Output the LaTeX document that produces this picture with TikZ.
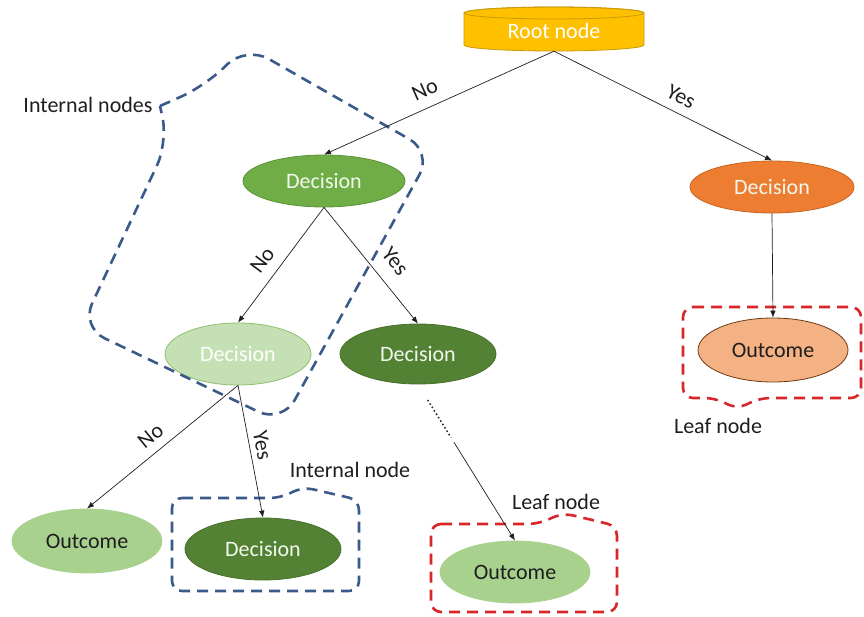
\documentclass[tikz,border=0pt]{standalone}
\usepackage{fontspec}
\setmainfont{Carlito}
\usetikzlibrary{shapes.geometric,arrows.meta,calc}

\definecolor{rootfill}{HTML}{FFC000}
\definecolor{rootline}{HTML}{C99A06}
\definecolor{midgreen}{HTML}{70AD47}
\definecolor{midgreenline}{HTML}{5A9438}
\definecolor{palegreen}{HTML}{C5E0B4}
\definecolor{palegreenline}{HTML}{8FBF6F}
\definecolor{darkgreen}{HTML}{548235}
\definecolor{darkgreenline}{HTML}{46702B}
\definecolor{leafgreen}{HTML}{A9D18E}
\definecolor{orangefill}{HTML}{ED7D31}
\definecolor{orangeline}{HTML}{C8651F}
\definecolor{peach}{HTML}{F4B183}
\definecolor{peachline}{HTML}{6E3A14}
\definecolor{callblue}{HTML}{3A5A8A}
\definecolor{callred}{HTML}{D9262B}
\definecolor{inkgray}{HTML}{1E1E1E}
\definecolor{paletext}{HTML}{F2F8EE}

\begin{document}
\begin{tikzpicture}[x=1pt,y=-1pt,
  txt/.style={font=\fontsize{22}{26}\selectfont},
  ell/.style={ellipse, inner sep=0pt, line width=0.8pt, txt},
  conn/.style={-{Latex[length=7pt,width=5.5pt]}, line width=0.7pt, draw=inkgray},
  lbl/.style={sloped, inner sep=2pt, txt, text=inkgray},
  bluecall/.style={draw=callblue, line width=2.6pt, dash pattern=on 11pt off 7pt, rounded corners=10pt},
  redcall/.style={draw=callred, line width=2.6pt, dash pattern=on 11pt off 7pt, rounded corners=10pt},
  note/.style={txt, text=inkgray, inner sep=0pt}
]
\useasboundingbox (0,0) rectangle (864,616);

% root cylinder
\filldraw[fill=rootfill, draw=rootline, line width=0.8pt]
  (464,13) -- (464,45) arc[start angle=180, end angle=360, x radius=90pt, y radius=6pt]
  -- (644,13) arc[start angle=0, end angle=180, x radius=90pt, y radius=6pt] -- cycle;
\draw[rootline, line width=0.8pt] (554,13) ellipse[x radius=90pt, y radius=6pt];
\node[txt, text=white, minimum width=180pt, minimum height=40pt, inner sep=0pt] (root) at (554,31) {Root node};

% decision and outcome nodes
\node[ell, fill=midgreen, draw=midgreenline, text=paletext, minimum width=162pt, minimum height=52pt] (d1) at (324,181) {Decision};
\node[ell, fill=orangefill, draw=orangeline, text=paletext, minimum width=164pt, minimum height=52pt] (od) at (772,187) {Decision};
\node[ell, fill=peach, draw=peachline, text=inkgray, minimum width=150pt, minimum height=64pt] (oo) at (773,350) {Outcome};
\node[ell, fill=palegreen, draw=palegreenline, text=white, minimum width=146pt, minimum height=62pt] (dl) at (238,354) {Decision};
\node[ell, fill=darkgreen, draw=darkgreenline, text=paletext, minimum width=156pt, minimum height=60pt] (dd) at (418,354) {Decision};
\node[ell, fill=leafgreen, draw=leafgreen, text=inkgray, minimum width=150pt, minimum height=64pt] (ob) at (87,541) {Outcome};
\node[ell, fill=darkgreen, draw=darkgreenline, text=paletext, minimum width=156pt, minimum height=62pt] (dd2) at (263,549) {Decision};
\node[ell, fill=leafgreen, draw=leafgreen, text=inkgray, minimum width=150pt, minimum height=62pt] (om) at (515,572) {Outcome};

% dashed callouts
\draw[bluecall, rounded corners=26pt]
  (160,106) -- (205,86) -- (246,46) -- (432,152) -- (282,423) -- (81,327) -- (168,142) -- (160,106);
\draw[bluecall] (172,498) -- (280,498) -- (303,487) -- (359,500) -- (359,591) -- (172,591) -- cycle;
\draw[redcall] (431,524) -- (538,524) -- (563,513) -- (617,526) -- (617,612) -- (431,612) -- cycle;
\draw[redcall] (683,307) -- (861,307) -- (861,398) -- (760,398) -- (737,409) -- (715,398) -- (683,398) -- cycle;

% callout texts
\node[note] (tint) at (88,105) {Internal nodes};
\node[note] (tint2) at (350,470) {Internal node};
\node[note] (tleaf) at (556,502) {Leaf node};
\node[note] (tleaf2) at (718,426) {Leaf node};

% connectors
\draw[conn] (root.south) -- node[lbl, above=8.5pt, pos=0.53] {No} (d1.north);
\draw[conn] (root.south) -- node[lbl, above=6.5pt, pos=0.55] {Yes} (od.north);
\draw[conn] (d1.south) -- node[lbl, above=8.5pt, pos=0.55] {No} (dl.north);
\draw[conn] (d1.south) -- node[lbl, above=12pt, pos=0.58] {Yes} (dd.north);
\draw[conn] (dl.south) -- node[lbl, above=7pt, pos=0.51] {No} (ob.north);
\draw[conn] (dl.south) -- node[lbl, above=3.5pt, pos=0.47] {Yes} (dd2.north);
\draw[conn] (od.south) -- (oo.north);
\draw[inkgray, line width=1.5pt, dash pattern=on 1.5pt off 2.5pt]
  ($(dd.south)!0.1!(om.north)$) -- ($(dd.south)!0.34!(om.north)$);
\draw[conn] ($(dd.south)!0.37!(om.north)$) -- (om.north);
\end{tikzpicture}
\end{document}
